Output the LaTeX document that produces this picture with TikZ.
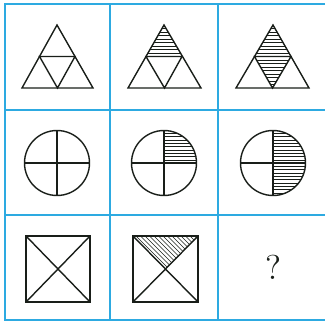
\documentclass[tikz,border=0pt]{standalone}
\definecolor{gridblue}{RGB}{45,170,225}
\definecolor{ink}{RGB}{25,30,25}
\begin{document}
\begin{tikzpicture}[x=1pt,y=-1pt,
  gridline/.style={draw=gridblue,line width=1.4pt},
  fig/.style={draw=ink,line width=1.4pt,line join=miter},
  hatch/.style={draw=ink,line width=0.7pt}]
\useasboundingbox (0,0) rectangle (325,327);
% grid
\draw[gridline] (325,4) -- (5,4) -- (5,320) -- (325,320);
\draw[gridline] (110,4) -- (110,320);
\draw[gridline] (218,4) -- (218,320);
\draw[gridline] (5,110) -- (325,110);
\draw[gridline] (5,215) -- (325,215);

% ---------- row 1 : triangles ----------
% cell 1
\draw[fig] (57,25) -- (93,88) -- (22,88) -- cycle;
\draw[fig] (39.5,56.5) -- (75,56.5) -- (57.5,88) -- cycle;
% cell 2
\begin{scope}
\clip (164,25) -- (182,56.5) -- (146,56.5) -- cycle;
\foreach \y in {28.5,32,...,57} \draw[hatch] (140,\y) -- (190,\y);
\end{scope}
\draw[fig] (164,25) -- (201,88) -- (128,88) -- cycle;
\draw[fig] (146,56.5) -- (182,56.5) -- (164.5,88) -- cycle;
% cell 3
\begin{scope}
\clip (273,25) -- (291,56.5) -- (272,88) -- (255,56.5) -- cycle;
\foreach \y in {28.5,32,...,88} \draw[hatch] (245,\y) -- (300,\y);
\end{scope}
\draw[fig] (273,25) -- (309,88) -- (236,88) -- cycle;
\draw[fig] (254.5,56.5) -- (291,56.5) -- (272.5,88) -- cycle;
\draw[ink,line width=1.8pt] (256,56.5) -- (289,56.5);

% ---------- row 2 : circles ----------
% cell 1
\draw[fig] (57,163) circle[radius=32.5];
\draw[fig] (24.5,163) -- (89.5,163) (57,130.5) -- (57,195.5);
% cell 2
\begin{scope}
\clip (164,163) circle[radius=32.5];
\clip (164,125) rectangle (200,163);
\foreach \y in {133.5,136.8,...,163} \draw[hatch] (160,\y) -- (200,\y);
\end{scope}
\draw[fig] (164,163) circle[radius=32.5];
\draw[fig] (131.5,163) -- (196.5,163) (164,130.5) -- (164,195.5);
% cell 3
\begin{scope}
\clip (273,163) circle[radius=32.5];
\clip (273,125) rectangle (310,200);
\foreach \y in {133.5,136.8,...,196} \draw[hatch] (270,\y) -- (310,\y);
\end{scope}
\draw[fig] (273,163) circle[radius=32.5];
\draw[fig] (240.5,163) -- (273,163) (273,130.5) -- (273,195.5);
\draw[ink,line width=2.4pt] (273,163) -- (305.5,163);

% ---------- row 3 : squares ----------
% cell 1
\draw[fig] (26,236) rectangle (90,302);
\draw[fig] (26,236) -- (90,302) (90,236) -- (26,302);
% cell 2
\begin{scope}
\clip (133,236) -- (198,236) -- (165.5,269) -- cycle;
\foreach \x in {100,104.5,...,205} \draw[hatch] (\x,236) -- (\x+40,276);
\end{scope}
\draw[fig] (133,236) rectangle (198,302);
\draw[fig] (133,236) -- (198,302) (198,236) -- (133,302);
% cell 3
\node[text=ink,font=\Large,scale=2.4] (q) at (273,267) {?};
\end{tikzpicture}
\end{document}
